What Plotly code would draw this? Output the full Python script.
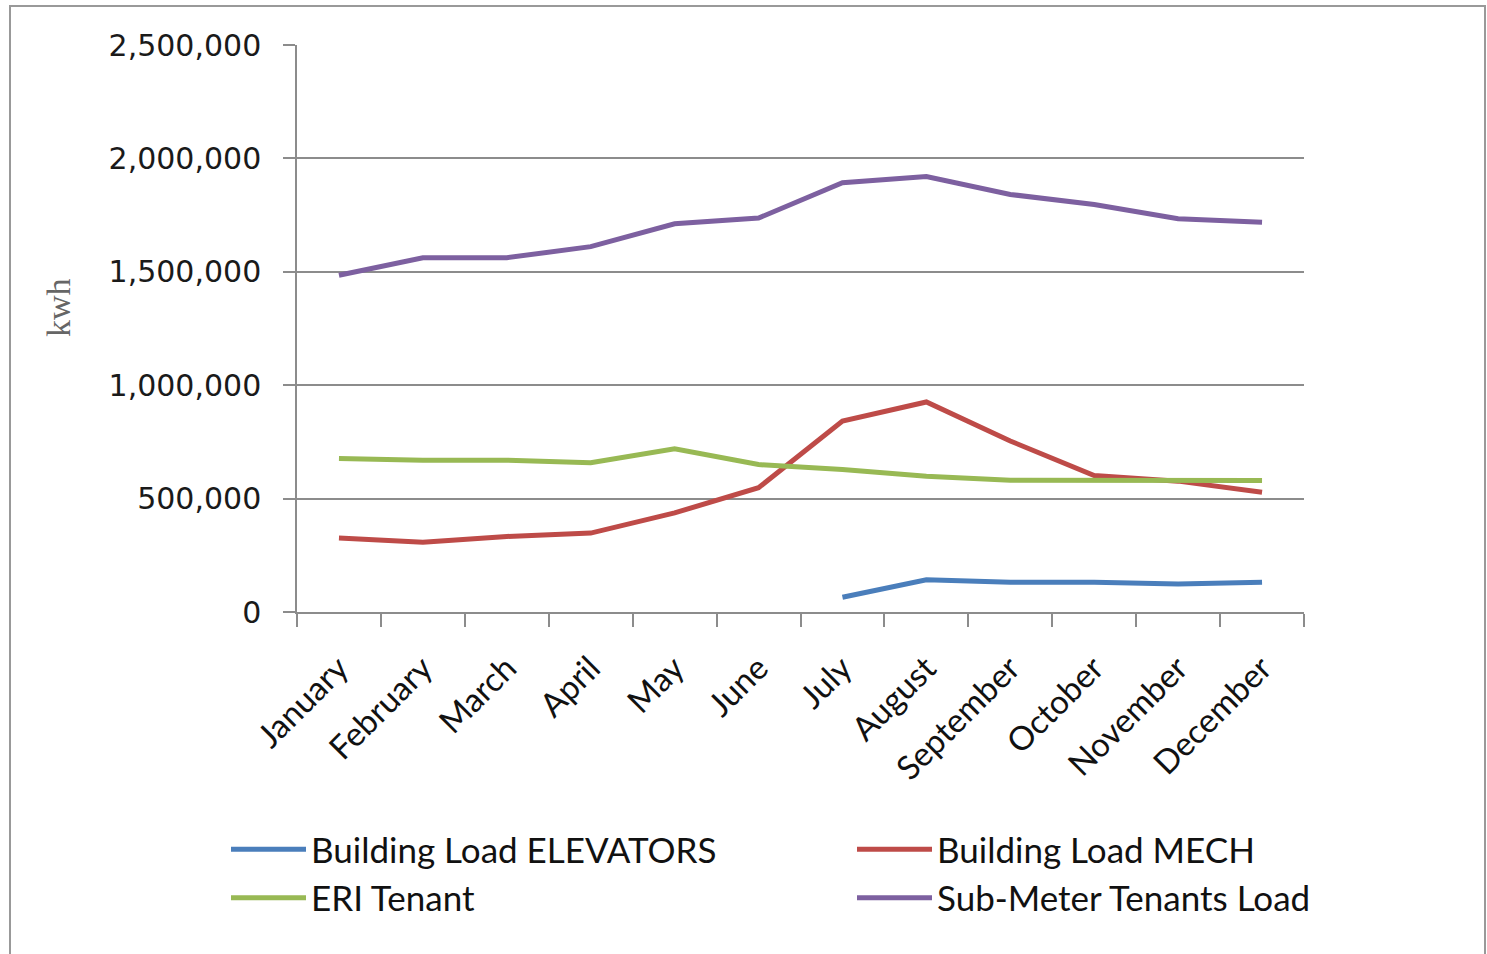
import plotly.graph_objects as go

months = ["January", "February", "March", "April", "May", "June", "July",
          "August", "September", "October", "November", "December"]

elevators = [None, None, None, None, None, None,
             65000, 142000, 131000, 131000, 124000, 131000]
mech = [326000, 308000, 333000, 348000, 437000, 548000,
        842000, 926000, 754000, 602000, 577000, 528000]
eri_tenant = [677000, 669000, 669000, 658000, 720000, 650000,
              628000, 599000, 581000, 581000, 581000, 580000]
sub_meter = [1485000, 1562000, 1562000, 1611000, 1712000, 1737000,
             1893000, 1920000, 1841000, 1797000, 1734000, 1718000]

y_ticks = [0, 500000, 1000000, 1500000, 2000000, 2500000]
y_tick_text = ["0", "500,000", "1,000,000", "1,500,000", "2,000,000", "2,500,000"]

series = [
    ("Building Load ELEVATORS", elevators, "#4A7EBB"),
    ("Building Load MECH", mech, "#BE4B48"),
    ("ERI Tenant", eri_tenant, "#98B954"),
    ("Sub-Meter Tenants Load", sub_meter, "#7D60A0"),
]

fig = go.Figure()
for name, vals, color in series:
    fig.add_trace(go.Scatter(
        x=months, y=vals, name=name, mode="lines",
        line=dict(color=color, width=5),
        connectgaps=False,
    ))

axis_grey = "#8c8c8c"

# plot area in pixels
L, R, T, B = 297, 1304, 45, 612
PW, PH = R - L, B - T

fig.update_layout(
    width=1487, height=954,
    margin=dict(l=L, r=1487 - R, t=T, b=954 - B),
    paper_bgcolor="white", plot_bgcolor="white",
    font=dict(family="DejaVu Sans", color="#1a1a1a"),
    showlegend=True,
    legend=dict(
        orientation="h",
        x=(226 - L) / PW, xanchor="left",
        y=(B - 820) / PH, yanchor="top",
        entrywidth=536, entrywidthmode="pixels",
        itemwidth=75,
        font=dict(family="Lato", size=35, color="#111111"),
        bgcolor="rgba(0,0,0,0)",
        tracegroupgap=0,
    ),
    xaxis=dict(
        type="category",
        range=[-0.5, 11.5],
        tickson="boundaries",
        ticks="outside", ticklen=13, tickwidth=1.5, tickcolor=axis_grey,
        showline=True, linecolor=axis_grey, linewidth=1.5,
        showgrid=False,
        tickangle=-45,
        ticklabelstandoff=22,
        tickfont=dict(family="Lato", size=33, color="#111111"),
    ),
    yaxis=dict(
        range=[0, 2500000],
        tickvals=y_ticks, ticktext=y_tick_text,
        ticks="outside", ticklen=12, tickwidth=1.5, tickcolor=axis_grey,
        showline=True, linecolor=axis_grey, linewidth=1.5,
        showgrid=True, gridcolor=axis_grey, gridwidth=1.5,
        zeroline=False,
        ticklabelstandoff=16,
        tickfont=dict(family="DejaVu Sans", size=30, color="#1a1a1a"),
    ),
    annotations=[dict(
        text="kwh", textangle=-90, showarrow=False,
        xref="paper", yref="paper",
        x=(58 - L) / PW, y=(B - 308) / PH,
        xanchor="center", yanchor="middle",
        font=dict(family="Liberation Serif", size=34, color="#666666"),
    )],
    shapes=[dict(
        type="rect", xref="paper", yref="paper",
        x0=(10 - L) / PW, x1=(1485 - L) / PW,
        y0=(B - 960) / PH, y1=(B - 6) / PH,
        line=dict(color="#999999", width=2),
        fillcolor="rgba(0,0,0,0)", layer="below",
    )],
)

fig.write_html("out.html")
